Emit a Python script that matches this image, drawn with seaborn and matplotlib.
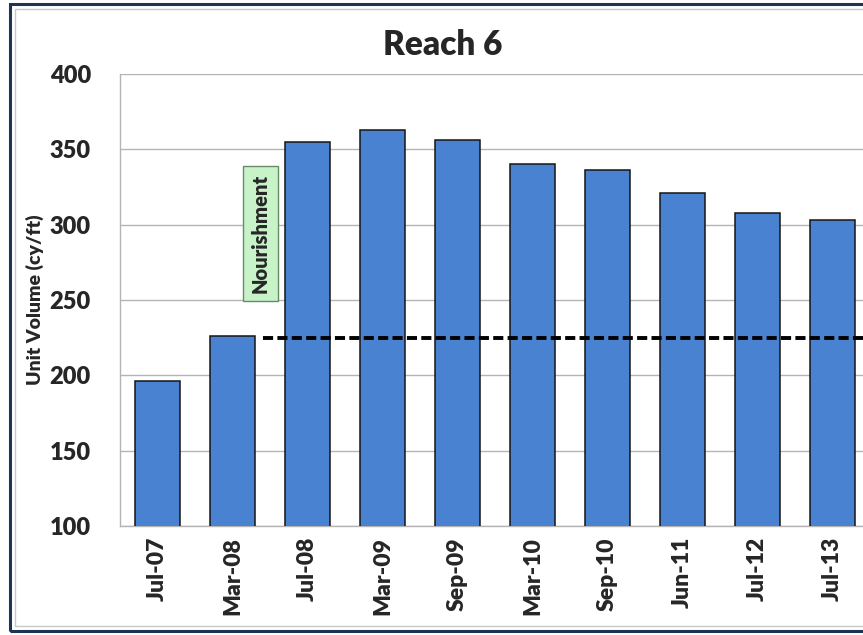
import matplotlib
matplotlib.use('Agg')
import matplotlib.pyplot as plt
import seaborn as sns
from matplotlib.patches import Rectangle

# ── Data ─────────────────────────────────────────────────────
surveys      = ['Jul-07', 'Mar-08', 'Jul-08', 'Mar-09', 'Sep-09',
                'Mar-10', 'Sep-10', 'Jun-11', 'Jul-12', 'Jul-13']
unit_volume  = [196, 226, 355, 363, 356, 340, 336, 321, 308, 303]
design_level = 225          # dashed reference line (cy/ft)
y_ticks      = [100, 150, 200, 250, 300, 350, 400]

# ── Style ────────────────────────────────────────────────────
sns.set_style('white')
plt.rcParams['font.family'] = ['Lato', 'DejaVu Sans']
bar_color  = '#4a82d2'
grid_color = '#b4b4b4'

fig = plt.figure(figsize=(8.63, 6.35), dpi=100)
ax = fig.add_axes([120/863, 109/635, 750/863, 452/635])

sns.barplot(x=surveys, y=unit_volume, color=bar_color, width=0.6,
            edgecolor='#151515', linewidth=1.1, saturation=1, ax=ax, zorder=3)

# dashed line after the nourishment
ax.plot([1.4, 9.6], [design_level, design_level], color='black',
        linestyle='--', linewidth=2.8, dashes=(2.6, 1.1), zorder=4, clip_on=False)

# nourishment label
ax.text(1.37, 294, 'Nourishment', rotation=90, ha='center', va='center',
        fontsize=14.5, fontweight='heavy', zorder=5,
        bbox=dict(boxstyle='square,pad=0.4', facecolor='#c8f2c8', edgecolor='#6a8a6a', linewidth=1))

ax.set_ylim(100, 400)
ax.set_xlim(-0.5, 9.5)
ax.set_yticks(y_ticks)
ax.set_yticklabels([str(t) for t in y_ticks], fontsize=17, fontweight='heavy')
ax.set_xticks(range(len(surveys)))
ax.set_xticklabels(surveys, rotation=90, fontsize=16.5, fontweight='heavy')
ax.set_xticks([i + 0.5 for i in range(len(surveys) - 1)], minor=True)
ax.tick_params(axis='x', which='major', length=0, pad=8)
ax.tick_params(axis='x', which='minor', length=5, color=grid_color, direction='out')
ax.tick_params(axis='y', length=8, color=grid_color, direction='out', pad=13)
ax.yaxis.grid(True, color=grid_color, linewidth=1)
ax.set_axisbelow(True)
for side in ['top', 'right']:
    ax.spines[side].set_visible(False)
for side in ['left', 'bottom']:
    ax.spines[side].set_color(grid_color)
    ax.spines[side].set_linewidth(1)

ax.set_ylabel('Unit Volume (cy/ft)', fontsize=14, fontweight='heavy', labelpad=4)
ax.set_xlabel('')
fig.text(443/863, 1 - 45/635, 'Reach 6', ha='center', va='center',
         fontsize=24, fontweight='heavy')

# frame around the chart
fig.patches.append(Rectangle((10/863, 4/635), 1.2, 627/635, transform=fig.transFigure,
                             fill=False, edgecolor='#1f3352', linewidth=2.2))
fig.patches.append(Rectangle((15/863, 9/635), 1.2, 617/635, transform=fig.transFigure,
                             fill=False, edgecolor='#c8c8c8', linewidth=1))

plt.savefig('out.png', dpi=100)
